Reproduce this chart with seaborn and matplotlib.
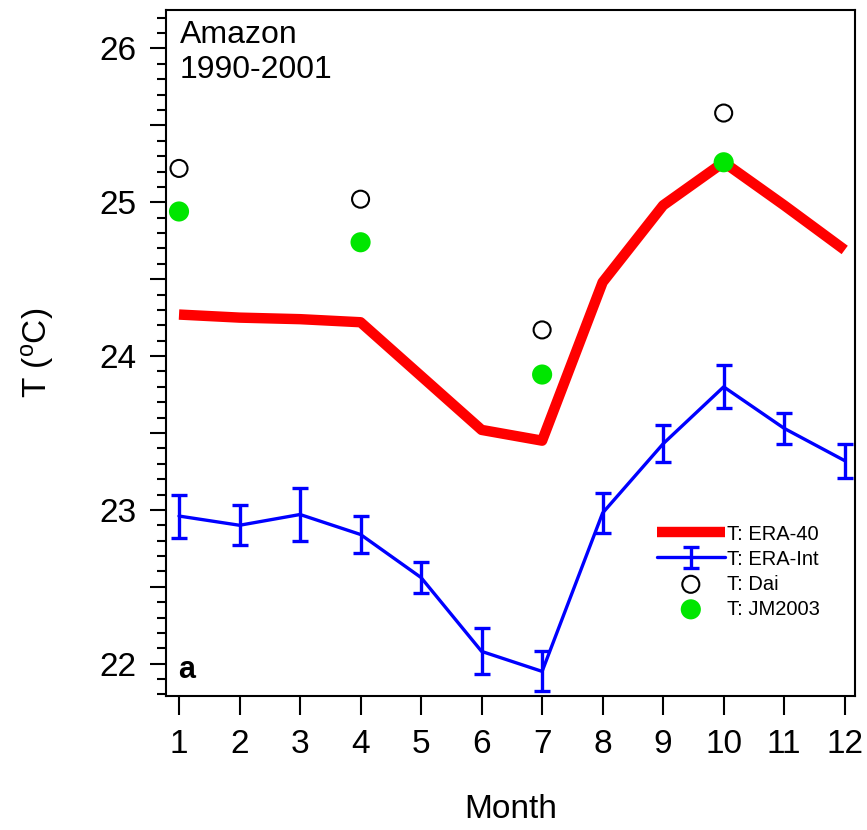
import numpy as np
import pandas as pd
import matplotlib
matplotlib.use("Agg")
import matplotlib.pyplot as plt
from matplotlib.ticker import MultipleLocator, FuncFormatter
import seaborn as sns

# --- data ---
months = [1, 2, 3, 4, 5, 6, 7, 8, 9, 10, 11, 12]
era40 = [24.27, 24.25, 24.24, 24.22, 23.87, 23.52, 23.45, 24.48, 24.98, 25.26, 24.98, 24.69]
eraint = [22.96, 22.90, 22.97, 22.84, 22.56, 22.08, 21.95, 22.98, 23.43, 23.80, 23.53, 23.32]
eraint_err = [0.14, 0.13, 0.17, 0.12, 0.10, 0.15, 0.13, 0.13, 0.12, 0.14, 0.10, 0.11]
obs_months = [1, 4, 7, 10]
dai = [25.22, 25.02, 24.17, 25.58]
jm2003 = [24.94, 24.74, 23.88, 25.26]

df = pd.DataFrame({"month": months, "era40": era40, "eraint": eraint})
obs = pd.DataFrame({"month": obs_months, "dai": dai, "jm": jm2003})

sns.set_theme(style="ticks")
plt.rcParams["font.family"] = ["Liberation Sans", "DejaVu Sans"]
plt.rcParams["mathtext.fontset"] = "custom"
plt.rcParams["mathtext.rm"] = "Liberation Sans"
plt.rcParams["mathtext.it"] = "Liberation Sans"
plt.rcParams["text.color"] = "black"
plt.rcParams["axes.labelcolor"] = "black"

fig = plt.figure(figsize=(8.67, 8.30), dpi=100)
ax = fig.add_axes([166 / 867, 1 - 696 / 830, 689 / 867, 686 / 830])

sns.lineplot(data=df, x="month", y="era40", ax=ax, color="#ff0000",
             linewidth=7.5, label="T: ERA-40", solid_capstyle="butt")
ax.errorbar(months, eraint, yerr=eraint_err, color="#0000ff", linewidth=2.4,
            elinewidth=2.4, capsize=6, capthick=2.4, label="T: ERA-Int")
sns.scatterplot(data=obs, x="month", y="dai", ax=ax, marker="o", s=150,
                facecolor="none", edgecolor="black", linewidth=1.5,
                label="T: Dai", zorder=4)
sns.scatterplot(data=obs, x="month", y="jm", ax=ax, marker="o", s=210,
                color="#00e600", edgecolor="none", label="T: JM2003", zorder=5)

ax.set_xlim(0.785, 12.17)
ax.set_ylim(21.79, 26.25)
ax.set_xticks(months)
ax.yaxis.set_major_locator(MultipleLocator(0.5))
ax.yaxis.set_minor_locator(MultipleLocator(0.1))
ax.yaxis.set_major_formatter(FuncFormatter(
    lambda v, p: f"{v:.0f}" if abs(v - round(v)) < 1e-6 else ""))

for side in ["left", "right", "top", "bottom"]:
    ax.spines[side].set_visible(True)
    ax.spines[side].set_color("black")
    ax.spines[side].set_linewidth(1.5)

ax.tick_params(axis="y", which="major", length=11.5, width=1.5, pad=10,
               labelsize=24, direction="out", colors="black")
ax.tick_params(axis="y", which="minor", length=6.5, width=1.5, direction="out",
               colors="black")
ax.tick_params(axis="x", which="major", length=13.5, width=1.5, pad=10,
               labelsize=24, direction="out", colors="black")

ax.set_xlabel("Month", fontsize=24, labelpad=25)
ax.set_ylabel(r"T ($^{\mathrm{o}}$C)", fontsize=24)
ax.yaxis.set_label_coords(-0.16, 0.5)

ax.text(0.02, 0.985, "Amazon\n1990-2001", transform=ax.transAxes,
        fontsize=23, va="top", ha="left", linespacing=1.2)
ax.text(0.018, 0.026, "a", transform=ax.transAxes, fontsize=22,
        fontweight="bold", va="baseline", ha="left")

# legend in the reference order
handles, labels = ax.get_legend_handles_labels()
order = ["T: ERA-40", "T: ERA-Int", "T: Dai", "T: JM2003"]
hmap = dict(zip(labels, handles))
ax.legend([hmap[k] for k in order], order, loc="upper left",
          bbox_to_anchor=(0.712, 0.25), frameon=False,
          fontsize=14.5, handlelength=3.4, handletextpad=0.1,
          labelspacing=0.3, borderpad=0, borderaxespad=0)

ax.set_facecolor("white")
fig.patch.set_facecolor("white")
fig.savefig("out.png", dpi=100)
